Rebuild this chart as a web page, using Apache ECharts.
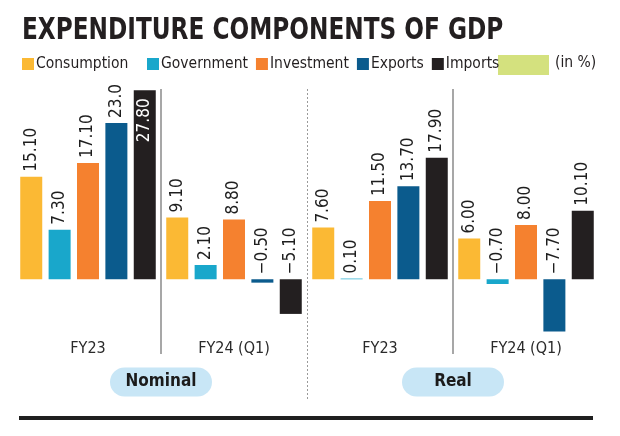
<!DOCTYPE html>
<html><head><meta charset="utf-8">
<script src="https://cdn.jsdelivr.net/npm/echarts@6/dist/echarts.min.js"></script>
<style>html,body{margin:0;padding:0;background:#fff}#c{width:620px;height:436px}</style>
</head><body><div id="c"></div>
<script>
const categories = ['FY23', 'FY24 (Q1)', 'FY23', 'FY24 (Q1)'];
const groups = ['Nominal', 'Real'];
const seriesNames = ['Consumption', 'Government', 'Investment', 'Exports', 'Imports'];
const consumption = [15.10, 9.10, 7.60, 6.00];
const government = [7.30, 2.10, 0.10, -0.70];
const investment = [17.10, 8.80, 11.50, 8.00];
const exportsData = [23.0, -0.50, 13.70, -7.70];
const imports = [27.80, -5.10, 17.90, 10.10];
const exportsDecimals = [1, 2, 2, 2];
const colors = ['#fbb934', '#19a7cb', '#f5812f', '#0b5b8d', '#231f20'];

const FONT = "'DejaVu Sans Condensed', 'DejaVu Sans', sans-serif";
const chart = echarts.init(document.getElementById('c'), null, {renderer: 'canvas'});

function fmt(p) {
  const dec = p.seriesName === 'Exports' ? exportsDecimals[p.dataIndex] : 2;
  const v = typeof p.value === 'number' ? p.value : p.data.value;
  return (v < 0 ? '\u2212' : '') + Math.abs(v).toFixed(dec);
}

const allData = [consumption, government, investment, exportsData, imports];
const series = seriesNames.map((name, si) => ({
  name,
  type: 'bar',
  xAxisIndex: 0,
  yAxisIndex: 0,
  barWidth: 22,
  barGap: '29%',
  itemStyle: {color: colors[si]},
  label: {
    show: true, position: 'top', rotate: 90, align: 'left', verticalAlign: 'middle',
    distance: 5, fontFamily: FONT, fontSize: 17, color: '#1e1e1e', formatter: fmt
  },
  data: allData[si].map((v, i) => {
    if (name === 'Imports' && i === 0) {
      return {value: v, label: {position: 'insideTop', align: 'right', color: '#ffffff', distance: 8}};
    }
    return v;
  })
}));

const legendText = {fontFamily: FONT, fontSize: 15.5, color: '#231f20', padding: [0, 0, 0, -3]};

chart.setOption({
  animation: false,
  backgroundColor: '#ffffff',
  legend: [
    {data: ['Consumption'], left: 22, top: 56, padding: 0, itemWidth: 12, itemHeight: 12,
     icon: 'rect', textStyle: legendText},
    {data: ['Government', 'Investment', 'Exports', 'Imports'], left: 147, top: 56, padding: 0,
     itemWidth: 12, itemHeight: 12, itemGap: 8, icon: 'rect', textStyle: legendText}
  ],
  grid: [
    {left: 15, width: 584, top: 89, height: 265},
    {left: 15, width: 584, top: 89, height: 311}
  ],
  xAxis: [
    {
      gridIndex: 0, type: 'category', data: categories, position: 'bottom',
      axisLine: {show: false}, axisTick: {show: false},
      axisLabel: {margin: -5, verticalAlign: 'middle', fontFamily: FONT, fontSize: 16, color: '#2a2a2a'},
      splitLine: {
        show: true, interval: (i) => i === 0 || i === 1 || i === 3,
        showMinLine: false, showMaxLine: false,
        lineStyle: {color: '#8a8a8a', width: 1.5}
      }
    },
    {
      gridIndex: 1, type: 'category', data: groups, position: 'bottom',
      axisLine: {show: false}, axisTick: {show: false},
      axisLabel: {
        margin: -18, verticalAlign: 'middle',
        formatter: (v) => '{p|' + v + '}',
        rich: {p: {backgroundColor: '#c8e6f6', borderRadius: 15, width: 102, height: 29, lineHeight: 29,
                   align: 'center', fontFamily: FONT, fontSize: 17, fontWeight: 'bold', color: '#1b1b1b'}}
      },
      splitLine: {
        show: true, interval: 0, showMinLine: false, showMaxLine: false,
        lineStyle: {color: '#9a9a9a', width: 1, type: [2, 2]}
      }
    }
  ],
  yAxis: [
    {gridIndex: 0, type: 'value', min: -11, max: 28, show: false},
    {gridIndex: 1, type: 'value', min: 0, max: 1, show: false}
  ],
  graphic: [
    {type: 'text', x: 22, y: 15, scaleX: 0.832,
     style: {text: 'EXPENDITURE COMPONENTS OF GDP', fontFamily: FONT, fontSize: 31, fontWeight: 'bold',
             fill: '#231f20', textVerticalAlign: 'top', verticalAlign: 'top'}},
    {type: 'rect', left: 498, top: 55, shape: {width: 51, height: 20}, style: {fill: '#d4e17e'}},
    {type: 'text', left: 555, top: 55, style: {text: '(in %)', fontFamily: FONT, fontSize: 15.5, fill: '#231f20'}},
    {type: 'rect', left: 19, top: 416, shape: {width: 574, height: 4}, style: {fill: '#1f1f1f'}}
  ],
  series
});
</script>
</body></html>
